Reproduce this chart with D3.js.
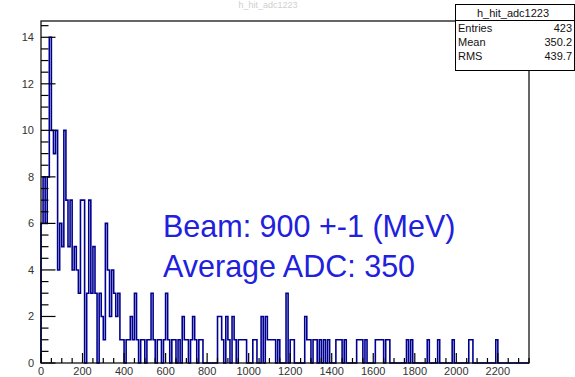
<!DOCTYPE html>
<html>
<head>
<meta charset="utf-8">
<script src="https://cdn.jsdelivr.net/npm/d3@7"></script>
<style>
  body { margin: 0; background: #fff; }
  svg { display: block; font-family: "Liberation Sans", Arial, sans-serif; }
</style>
</head>
<body>
<svg id="chart" width="575" height="377"></svg>
<script>
// histogram h_hit_adc1223, bins of 10 ADC counts starting at 0
const binWidth = 10;
const counts = [
  6, 8, 6, 8, 14, 10, 9, 10, 4, 6,   5, 10, 7, 5, 7, 4, 5, 4, 3, 7,
  7, 0, 3, 7, 3, 5, 3, 0, 3, 2,      1, 6, 4, 2, 4, 3, 2, 3, 1, 1,
  0, 1, 1, 2, 1, 3, 1, 0, 1, 1,      0, 1, 1, 3, 1, 0, 1, 1, 0, 1,
  3, 1, 0, 1, 1, 0, 1, 0, 2, 1,      1, 0, 1, 2, 1, 0, 1, 1, 0, 0,
  0, 0, 0, 0, 0, 2, 2, 1, 0, 2,      1, 0, 2, 1, 0, 1, 1, 1, 1, 0,
  0, 0, 1, 1, 0, 0, 2, 0, 2, 1,      1, 1, 1, 0, 1, 0, 0, 0, 3, 0,
  1, 1, 0, 0, 0, 0, 0, 2, 1, 1,      0, 1, 1, 0, 1, 0, 1, 0, 1, 0,
  0, 0, 1, 1, 1, 0, 1, 0, 0, 0,      0, 0, 1, 1, 1, 0, 1, 0, 0, 0,
  0, 1, 1, 1, 1, 0, 1, 1, 0, 0,      0, 0, 0, 0, 0, 0, 1, 0, 1, 0,
  0, 0, 0, 0, 0, 0, 1, 0, 0, 0,      0, 1, 0, 0, 0, 0, 0, 0, 1, 0,
  0, 0, 0, 0, 0, 0, 1, 1, 0, 0,      0, 0, 0, 0, 0, 0, 0, 0, 0, 1,
  0, 0, 0, 0, 0, 0, 0, 0, 0, 0,      0, 0, 0, 0, 0
];
const xMax = 2350;
const yMax = 14.7;
const xTicks = [0, 200, 400, 600, 800, 1000, 1200, 1400, 1600, 1800, 2000, 2200];
const yTicks = [0, 2, 4, 6, 8, 10, 12, 14];

const histName = "h_hit_adc1223";
const statLabels = ["Entries", "Mean", "RMS"];
const statValues = ["423", "350.2", "439.7"];
const notes = ["Beam: 900 +-1 (MeV)", "Average ADC: 350"];

const frame = { left: 41, right: 529, top: 21, bottom: 363 };
const svg = d3.select("#chart");

const x = d3.scaleLinear().domain([0, xMax]).range([frame.left, frame.right]);
const y = d3.scaleLinear().domain([0, yMax]).range([frame.bottom, frame.top]);

// faint title at the very top
svg.append("text")
  .attr("x", 268).attr("y", 8)
  .attr("text-anchor", "middle")
  .attr("font-size", 9)
  .attr("fill", "#cfcfcf")
  .text(histName);

// histogram outline as a step line
const pts = [[0, 0]].concat(counts.map((c, i) => [i * binWidth, c]));
pts.push([counts.length * binWidth, 0]);
const line = d3.line()
  .x(d => x(d[0]))
  .y(d => y(d[1]))
  .curve(d3.curveStepAfter);

svg.append("path")
  .datum(pts)
  .attr("d", line)
  .attr("fill", "none")
  .attr("stroke", "#000090")
  .attr("stroke-width", 1.6);

// frame
svg.append("rect")
  .attr("x", frame.left).attr("y", frame.top)
  .attr("width", frame.right - frame.left)
  .attr("height", frame.bottom - frame.top)
  .attr("fill", "none")
  .attr("stroke", "#000")
  .attr("stroke-width", 1.2);

// x axis: ticks pointing up into the frame
const xMinor = d3.range(0, xMax + 1, 50);
svg.append("g").selectAll("line")
  .data(xMinor)
  .join("line")
  .attr("x1", d => x(d)).attr("x2", d => x(d))
  .attr("y1", frame.bottom)
  .attr("y2", d => frame.bottom - (d % 200 === 0 ? 10 : 5))
  .attr("stroke", "#000")
  .attr("stroke-width", 1.2);

svg.append("g").selectAll("text")
  .data(xTicks)
  .join("text")
  .attr("x", d => x(d))
  .attr("y", 375)
  .attr("text-anchor", "middle")
  .attr("font-size", 11)
  .attr("fill", "#333")
  .text(d => d);

// y axis: ticks pointing right into the frame
const yMinor = d3.range(0, yMax, 0.5);
svg.append("g").selectAll("line")
  .data(yMinor)
  .join("line")
  .attr("y1", d => y(d)).attr("y2", d => y(d))
  .attr("x1", frame.left)
  .attr("x2", d => frame.left + (d % 2 === 0 ? 14.5 : 7.5))
  .attr("stroke", "#000")
  .attr("stroke-width", 1.2);

svg.append("g").selectAll("text")
  .data(yTicks)
  .join("text")
  .attr("x", 34)
  .attr("y", d => y(d) + 4)
  .attr("text-anchor", "end")
  .attr("font-size", 11)
  .attr("fill", "#333")
  .text(d => d);

// annotations
svg.append("g").selectAll("text")
  .data(notes)
  .join("text")
  .attr("x", 163)
  .attr("y", (d, i) => 237 + i * 40)
  .attr("font-size", 30.5)
  .attr("fill", "#2020dd")
  .text(d => d);

// stats box
const box = svg.append("g");
box.append("rect")
  .attr("x", 455.5).attr("y", 4.5)
  .attr("width", 119).attr("height", 66)
  .attr("fill", "#fff")
  .attr("stroke", "#000");
box.append("line")
  .attr("x1", 455.5).attr("x2", 574.5)
  .attr("y1", 20.5).attr("y2", 20.5)
  .attr("stroke", "#000");
box.append("text")
  .attr("x", 513).attr("y", 16.5)
  .attr("text-anchor", "middle")
  .attr("font-size", 11)
  .attr("fill", "#111")
  .text(histName);
statLabels.forEach((s, i) => {
  box.append("text")
    .attr("x", 458).attr("y", 32 + i * 14)
    .attr("font-size", 11).attr("fill", "#111")
    .text(s);
  box.append("text")
    .attr("x", 572).attr("y", 32 + i * 14)
    .attr("text-anchor", "end")
    .attr("font-size", 11).attr("fill", "#111")
    .text(statValues[i]);
});
</script>
</body>
</html>
